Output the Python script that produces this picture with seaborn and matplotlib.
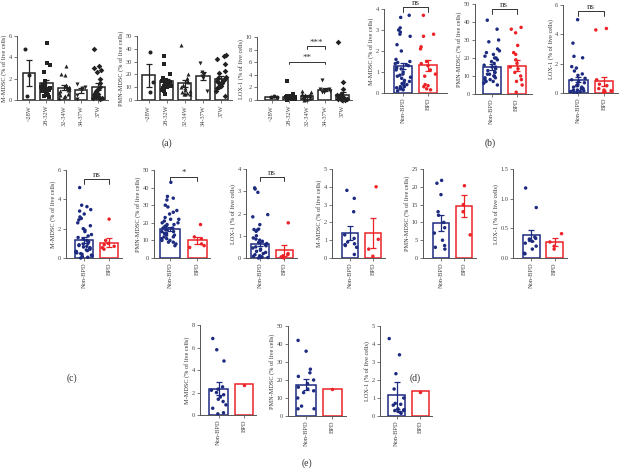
import numpy as np
import pandas as pd
import seaborn as sns
import matplotlib
matplotlib.use("Agg")
import matplotlib.pyplot as plt

sns.set_style("ticks")
plt.rcParams['font.family'] = ['Liberation Serif', 'DejaVu Serif']

NAVY = "#1c2a80"
RED = "#ec2227"
AXC = "#555555"

#categories
weeks = ["~28W", "28-32W", "32-34W", "34-37W", "37W"]
groups = ["Non-BPD", "BPD"]

#(a) gestational age groups
a_mmdsc_mean = [2.55, 1.55, 1.15, 0.9, 1.25]
a_mmdsc_sem = [1.2, 0.3, 0.22, 0.25, 0.3]
a_mmdsc_pts = [[4.8, 2.3, 0.35],
               [5.3, 3.5, 3.3, 2.6, 1.8, 1.6, 1.4, 1.3, 1.2, 1.1, 1.0, 0.9, 0.9, 0.8, 0.7, 0.6, 0.5, 0.4, 0.3],
               [3.2, 2.4, 2.3, 1.4, 1.3, 1.2, 1.1, 1.0, 0.9, 0.8, 0.7, 0.6, 0.5, 0.4, 0.3, 0.2],
               [1.5, 1.2, 1.1, 1.0, 0.5, 0.1],
               [4.8, 3.2, 3.0, 2.8, 2.6, 2.0, 1.6, 1.2, 1.0, 0.8, 0.7, 0.6, 0.5, 0.4, 0.3, 0.2, 0.2, 0.1]]
a_pmn_mean = [19.5, 14.5, 13.0, 19.0, 16.5]
a_pmn_sem = [9.0, 2.0, 2.5, 3.0, 2.5]
a_pmn_pts = [[37.5, 14, 6.5],
             [34, 28, 20, 17, 16, 15, 14, 13, 12, 12, 11, 11, 10, 10, 9, 8, 7, 5],
             [43, 20, 17, 15, 14, 12, 10, 9, 8, 7, 6, 5.5, 5, 5, 4.5],
             [29, 22, 20, 19, 17, 7],
             [35, 34, 32, 28, 23, 21, 18, 17, 16, 15, 14, 13, 12, 11, 10, 9, 7, 3]]
a_lox_mean = [0.5, 0.5, 0.7, 1.6, 0.85]
a_lox_sem = [0.05, 0.1, 0.15, 0.25, 0.45]
a_lox_pts = [[0.6, 0.5, 0.45],
             [3.0, 0.9, 0.8, 0.7, 0.6, 0.5, 0.5, 0.4, 0.4, 0.3, 0.3, 0.2, 0.2, 0.1, 0.1, 0.05],
             [1.5, 1.2, 1.0, 0.9, 0.8, 0.7, 0.6, 0.5, 0.4, 0.3, 0.2, 0.1, 0.05],
             [3.2, 1.8, 1.7, 1.6, 1.5, 1.4, 1.3, 1.2],
             [9.2, 2.9, 1.8, 1.0, 0.8, 0.6, 0.5, 0.4, 0.3, 0.2, 0.1, 0.1, 0.05, 0.0]]

#(b)
b_mmdsc_mean = [1.28, 1.33]
b_mmdsc_sem = [0.16, 0.26]
b_mmdsc_pts = [[3.7, 3.6, 3.1, 3.0, 2.9, 2.8, 2.7, 2.3, 2.0, 1.6, 1.5, 1.45, 1.4, 1.35, 1.3, 1.2, 1.15, 1.1,
                1.0, 0.9, 0.85, 0.8, 0.75, 0.7, 0.6, 0.55, 0.5, 0.45, 0.4, 0.35, 0.3, 0.3, 0.25, 0.2, 0.2, 0.15, 0.1],
               [3.7, 2.8, 2.7, 2.2, 2.1, 1.5, 1.4, 1.3, 1.1, 0.9, 0.8, 0.4, 0.35, 0.3, 0.2, 0.15]]
b_pmn_mean = [14.8, 15.8]
b_pmn_sem = [1.6, 2.9]
b_pmn_pts = [[41, 36, 30, 29, 25, 24, 23, 22, 21, 20, 20, 19, 18, 17, 16, 15, 15, 14, 13, 12, 12, 11, 11,
              10, 10, 9, 9, 8, 8, 7, 7, 6, 5],
             [37, 36, 34, 27, 23, 22, 19, 17, 15, 14, 12, 10, 8, 7, 5, 1]]
b_lox_mean = [0.92, 0.8]
b_lox_sem = [0.2, 0.3]
b_lox_pts = [[5.0, 3.4, 2.5, 2.4, 1.8, 1.7, 1.5, 1.3, 1.2, 1.0, 0.9, 0.8, 0.7, 0.6, 0.5, 0.5, 0.4, 0.4,
              0.3, 0.3, 0.2, 0.2, 0.15, 0.1, 0.1, 0.05, 0.05],
             [4.4, 4.3, 0.9, 0.6, 0.5, 0.3, 0.2, 0.15, 0.1, 0.05]]

#(c)
c_mmdsc_mean = [1.25, 1.05]
c_mmdsc_sem = [0.2, 0.3]
c_mmdsc_pts = [[4.8, 3.6, 3.5, 3.3, 3.2, 3.0, 2.8, 2.7, 2.6, 2.4, 2.2, 2.0, 1.9, 1.8, 1.6, 1.5, 1.4, 1.3, 1.2,
                1.1, 1.0, 0.95, 0.9, 0.85, 0.8, 0.75, 0.7, 0.65, 0.6, 0.55, 0.5, 0.45, 0.4, 0.35, 0.3, 0.25,
                0.2, 0.15, 0.1, 0.05, 0.0],
               [2.65, 1.2, 1.0, 0.9, 0.8, 0.7, 0.6]]
c_pmn_mean = [16.5, 10.0]
c_pmn_sem = [1.2, 2.2]
c_pmn_pts = [[43, 35, 34, 33, 30, 29, 27, 26, 25, 23, 22, 22, 21, 20, 20, 19, 19, 18, 18, 17, 17, 16, 16,
              15, 15, 14, 14, 13, 13, 12, 12, 11, 11, 10, 10, 9, 9, 8, 7],
             [19, 12, 11, 8, 7, 6]]
c_lox_mean = [0.62, 0.35]
c_lox_sem = [0.1, 0.25]
c_lox_pts = [[3.15, 3.1, 2.95, 1.95, 1.85, 1.5, 1.3, 1.28, 1.25, 1.2, 1.0, 0.9, 0.85, 0.8, 0.75, 0.7, 0.65,
              0.6, 0.55, 0.5, 0.45, 0.4, 0.35, 0.3, 0.25, 0.2, 0.15, 0.1, 0.08, 0.05, 0.03, 0.02, 0.0],
             [1.58, 0.2, 0.15, 0.1, 0.05, 0.0]]

#(d)
d_mmdsc_mean = [1.4, 1.42]
d_mmdsc_sem = [0.37, 0.85]
d_mmdsc_pts = [[3.8, 3.35, 2.6, 1.3, 1.1, 0.9, 0.8, 0.75, 0.7, 0.6, 0.2],
               [4.0, 1.05, 0.5, 0.1]]
d_pmn_mean = [9.8, 14.6]
d_pmn_sem = [2.3, 3.0]
d_pmn_pts = [[21.8, 21, 17.8, 13, 12, 10, 8.5, 7, 5, 3.5, 3, 2.5],
             [20.3, 15, 13, 6.5]]
d_lox_mean = [0.38, 0.27]
d_lox_sem = [0.09, 0.06]
d_lox_pts = [[1.18, 0.85, 0.35, 0.33, 0.32, 0.3, 0.28, 0.25, 0.2, 0.15, 0.08, 0.07],
             [0.41, 0.27, 0.2, 0.15]]

#(e)
e_mmdsc_mean = [2.35, 2.75]
e_mmdsc_sem = [0.55, 0.0]
e_mmdsc_pts = [[6.8, 5.8, 4.8, 2.5, 2.3, 2.2, 2.0, 1.8, 1.6, 1.4, 1.2, 0.9, 0.6, 0.2, 0.1],
               [2.7]]
e_pmn_mean = [17.5, 15.0]
e_pmn_sem = [3.0, 0.0]
e_pmn_pts = [[42, 36, 26, 24, 22, 20, 18, 16, 15, 14, 13, 10, 5.5, 4, 4],
             [14.8]]
e_lox_mean = [1.15, 1.37]
e_lox_sem = [0.75, 0.0]
e_lox_pts = [[4.3, 3.4, 2.35, 1.5, 1.0, 0.7, 0.65, 0.6, 0.4, 0.35, 0.3, 0.3, 0.25, 0.2, 0.15],
             [1.35]]

W, H = 620, 469
fig = plt.figure(figsize=(W / 100, H / 100), dpi=100)


def make_ax(x0, x1, ytop, ybot):
    return fig.add_axes([x0 / W, 1 - ybot / H, (x1 - x0) / W, (ybot - ytop) / H])


def panel(box, cats, means, sems, pts, ylabel, yticks, xlim, colors, markers=None, bw=0.72):
    ax = make_ax(*box)
    sns.barplot(x=cats, y=means, order=cats, color="white", width=bw, ax=ax,
                errorbar=None, linewidth=1.1, edgecolor="k")
    for p, c in zip(ax.patches, colors):
        p.set_edgecolor(c)
        p.set_facecolor("white")
    df = pd.DataFrame({"cat": [c for c, v in zip(cats, pts) for _ in v],
                       "val": [x for v in pts for x in v]})
    if markers is None:
        sns.stripplot(data=df, x="cat", y="val", order=cats, hue="cat", hue_order=cats,
                      palette=colors, size=2.5, jitter=0.32, linewidth=0, ax=ax,
                      legend=False, clip_on=False, zorder=3)
    else:
        for c, col, m in zip(cats, colors, markers):
            sns.stripplot(data=df[df.cat == c], x="cat", y="val", order=cats, color=col,
                          marker=m, size=2.9, jitter=0.3, linewidth=0, ax=ax,
                          clip_on=False, zorder=3)
    for i, (m, s, col) in enumerate(zip(means, sems, colors)):
        if s > 0:
            ax.errorbar(i, m, yerr=s, fmt="none", ecolor=col, elinewidth=0.9,
                        capsize=2.4, capthick=0.9, zorder=4)
    ax.set_xlim(*xlim)
    ax.set_ylim(yticks[0], yticks[-1])
    ax.set_yticks(yticks)
    ax.set_xlabel("")
    ax.set_ylabel(ylabel, fontsize=4.5, labelpad=1, color="#333333")
    ax.tick_params(axis="both", length=2, width=0.5, labelsize=4.6, colors="#444444", pad=1.5)
    ax.tick_params(axis="x", rotation=90)
    for sp in ["top", "right"]:
        ax.spines[sp].set_visible(False)
    for sp in ["left", "bottom"]:
        ax.spines[sp].set_color(AXC)
        ax.spines[sp].set_linewidth(0.7)
    return ax


def bracket(ax, i, j, y, h, text, color="#333333"):
    ax.plot([i, i, j, j], [y - h, y, y, y - h], color=color, lw=0.7, clip_on=False)
    ax.text((i + j) / 2, y, text, ha="center", va="bottom", fontsize=6.5, color=color,
            clip_on=False)


blk = ["#222222"] * 5
bc = [NAVY, RED]
wk_markers = ["o", "s", "^", "v", "D"]
lbl_m = "M-MDSC (% of live cells)"
lbl_p = "PMN-MDSC (% of live cells)"
lbl_l = "LOX-1 (% of live cells)"

#row (a)
panel((17, 108, 36, 100), weeks, a_mmdsc_mean, a_mmdsc_sem, a_mmdsc_pts, lbl_m,
      [0, 2, 4, 6], (-0.7, 4.55), blk, wk_markers)
panel((137, 232, 36, 100), weeks, a_pmn_mean, a_pmn_sem, a_pmn_pts, lbl_p,
      [0, 10, 20, 30, 40, 50], (-0.64, 4.6), blk, wk_markers)
ax = panel((257, 352, 37, 100), weeks, a_lox_mean, a_lox_sem, a_lox_pts, lbl_l,
           [0, 2, 4, 6, 8, 10], (-0.82, 4.53), blk, wk_markers)
bracket(ax, 1, 3, 6.0, 0.35, "**")
bracket(ax, 2, 3, 8.5, 0.35, "***")

#row (b)
ax = panel((384, 447, 9, 93), groups, b_mmdsc_mean, b_mmdsc_sem, b_mmdsc_pts, lbl_m,
           [0, 1, 2, 3, 4], (-0.76, 1.76), bc)
bracket(ax, 0, 1, 4.1, 0.25, "ns")
ax = panel((475, 532, 4, 94), groups, b_pmn_mean, b_pmn_sem, b_pmn_pts, lbl_p,
           [0, 10, 20, 30, 40, 50], (-0.66, 1.62), bc)
bracket(ax, 0, 1, 47, 2.5, "ns")
ax = panel((563, 618, 5, 93), groups, b_lox_mean, b_lox_sem, b_lox_pts, lbl_l,
           [0, 2, 4, 6], (-0.6, 1.55), bc)
bracket(ax, 0, 1, 5.6, 0.35, "ns")

#row (c) and (d)
ax = panel((66, 122, 170, 258), groups, c_mmdsc_mean, c_mmdsc_sem, c_mmdsc_pts, lbl_m,
           [0, 2, 4, 6], (-0.7, 1.5), bc)
bracket(ax, 0, 1, 5.4, 0.35, "ns")
ax = panel((154, 210, 170, 258), groups, c_pmn_mean, c_pmn_sem, c_pmn_pts, lbl_p,
           [0, 10, 20, 30, 40, 50], (-0.6, 1.47), bc)
bracket(ax, 0, 1, 46, 2.5, "*")
ax = panel((246, 297, 169, 258), groups, c_lox_mean, c_lox_sem, c_lox_pts, lbl_l,
           [0, 1, 2, 3, 4], (-0.57, 1.51), bc)
bracket(ax, 0, 1, 3.65, 0.2, "ns")

panel((332, 385, 169, 258), groups, d_mmdsc_mean, d_mmdsc_sem, d_mmdsc_pts, lbl_m,
      [0, 1, 2, 3, 4, 5], (-0.78, 1.52), bc)
panel((423, 476, 169, 258), groups, d_pmn_mean, d_pmn_sem, d_pmn_pts, lbl_p,
      [0, 5, 10, 15, 20, 25], (-0.78, 1.52), bc)
ax = panel((513, 567, 169, 258), groups, d_lox_mean, d_lox_sem, d_lox_pts, lbl_l,
           [0.0, 0.5, 1.0, 1.5], (-0.77, 1.53), bc)
ax.yaxis.set_major_formatter(matplotlib.ticker.FormatStrFormatter("%.1f"))

#row (e)
panel((200, 256, 325, 415), groups, e_mmdsc_mean, e_mmdsc_sem, e_mmdsc_pts, lbl_m,
      [0, 2, 4, 6, 8], (-0.73, 1.47), bc)
panel((288, 346, 326, 416), groups, e_pmn_mean, e_pmn_sem, e_pmn_pts, lbl_p,
      [0, 10, 20, 30, 40, 50], (-0.68, 1.51), bc)
panel((380, 432, 326, 416), groups, e_lox_mean, e_lox_sem, e_lox_pts, lbl_l,
      [0, 1, 2, 3, 4, 5], (-0.69, 1.48), bc)

#panel letters
for s, x, y in [("(a)", 167, 143), ("(b)", 490, 143), ("(c)", 72, 378),
                ("(d)", 415, 378), ("(e)", 307, 463)]:
    fig.text(x / W, 1 - y / H, s, ha="center", va="center", fontsize=7, color="#333333")

fig.savefig("out.png", dpi=100, facecolor="white")
